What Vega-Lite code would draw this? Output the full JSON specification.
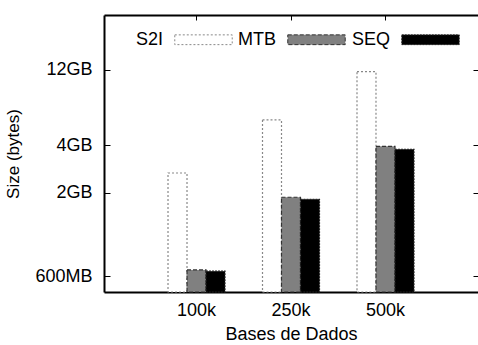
{
  "$schema": "https://vega.github.io/schema/vega-lite/v6.json",
  "width": 374,
  "height": 277,
  "autosize": "none",
  "padding": {"left": 104, "top": 15, "right": 0, "bottom": 53},
  "config": {
    "view": {"stroke": null},
    "font": "Liberation Sans",
    "axis": {"labelFont": "Liberation Sans", "titleFont": "Liberation Sans", "labelColor": "black", "titleColor": "black", "tickColor": "black", "domainColor": "black", "grid": false, "titleFontWeight": "normal"}
  },
  "data": {"values": [
    {"db": "100k", "series": "S2I", "size": 2725},
    {"db": "100k", "series": "MTB", "size": 660},
    {"db": "100k", "series": "SEQ", "size": 648},
    {"db": "250k", "series": "S2I", "size": 5916},
    {"db": "250k", "series": "MTB", "size": 1911},
    {"db": "250k", "series": "SEQ", "size": 1856},
    {"db": "500k", "series": "S2I", "size": 11990},
    {"db": "500k", "series": "MTB", "size": 4026},
    {"db": "500k", "series": "SEQ", "size": 3856}
  ]},
  "resolve": {"axis": {"x": "independent", "y": "independent"}},
  "layer": [
    {
      "mark": {"type": "bar", "strokeWidth": 1.2},
      "encoding": {
        "x": {"field": "db", "type": "nominal", "sort": ["100k", "250k", "500k"],
          "scale": {"paddingOuter": 0.479, "paddingInner": 0},
          "axis": {"orient": "bottom", "labelAngle": 0, "labelFontSize": 18, "tickSize": -5, "labelPadding": 14, "domainWidth": 2, "title": "Bases de Dados", "titleFontSize": 18, "titlePadding": 6}},
        "xOffset": {"field": "series", "type": "nominal", "scale": {"domain": ["S2I", "MTB", "SEQ"], "paddingOuter": 0.987, "paddingInner": 0}},
        "y": {"field": "size", "type": "quantitative",
          "scale": {"type": "log", "domain": [478, 27460], "nice": false, "zero": false},
          "axis": {"orient": "left", "values": [600, 2048, 4096, 12288], "labelExpr": "datum.value == 600 ? '600MB' : (datum.value / 1024) + 'GB'", "labelFontSize": 18, "tickSize": -6, "labelPadding": 18, "domainWidth": 2, "title": "Size (bytes)", "titleFontSize": 17, "titlePadding": 12}},
        "y2": {"datum": 478},
        "fill": {"field": "series", "type": "nominal",
          "scale": {"domain": ["S2I", "MTB", "SEQ"], "range": ["white", "#808080", "black"]},
          "legend": {"orient": "none", "legendX": 70, "legendY": -5, "direction": "horizontal", "title": null, "symbolType": "M-1,-0.17L1,-0.17L1,0.17L-1,0.17Z", "symbolSize": 3300, "symbolStrokeWidth": 1, "labelFontSize": 18, "labelFont": "Liberation Sans", "labelColor": "black", "labelAlign": "right", "labelOffset": -70, "columnPadding": 3, "symbolOpacity": 1}},
        "stroke": {"field": "series", "type": "nominal",
          "scale": {"domain": ["S2I", "MTB", "SEQ"], "range": ["#888888", "#333333", "#222222"]}},
        "strokeDash": {"field": "series", "type": "nominal",
          "scale": {"domain": ["S2I", "MTB", "SEQ"], "range": [[2, 2], [4, 2], [2, 1]]}}
      }
    },
    {
      "mark": {"type": "bar", "opacity": 0},
      "encoding": {
        "x": {"field": "db", "type": "nominal", "sort": ["100k", "250k", "500k"],
          "axis": {"orient": "top", "labels": false, "title": null, "tickSize": -5, "domainWidth": 2}},
        "y": {"field": "size", "type": "quantitative",
          "axis": {"orient": "right", "labels": false, "title": null, "domain": false, "tickSize": -5, "values": [600, 2048, 4096, 12288]}},
        "y2": {"datum": 478}
      }
    }
  ]
}
